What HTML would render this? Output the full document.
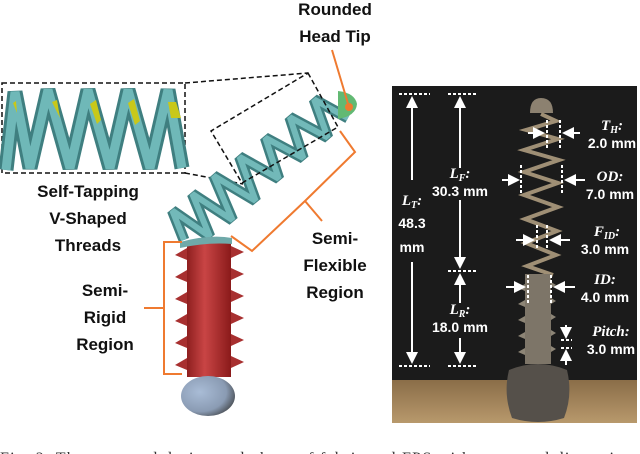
<!DOCTYPE html>
<html><head><meta charset="utf-8"><style>
html,body{margin:0;padding:0;background:#fff;width:640px;height:454px;overflow:hidden}
svg{display:block}
.b{font-family:"Liberation Sans",sans-serif;font-weight:bold;font-size:17px;fill:#111;text-anchor:middle}
.w{font-family:"Liberation Sans",sans-serif;font-weight:bold;font-size:14px;fill:#fff;text-anchor:middle}
.wi{font-family:"Liberation Serif",serif;font-style:italic;font-weight:bold;font-size:15px;fill:#fff;text-anchor:middle}
</style></head><body>
<svg width="640" height="454" viewBox="0 0 640 454" xmlns="http://www.w3.org/2000/svg">
<defs>
<linearGradient id="red" x1="0" x2="1"><stop offset="0" stop-color="#8e1f1f"/><stop offset="0.4" stop-color="#c94545"/><stop offset="1" stop-color="#8a1a1a"/></linearGradient>
<radialGradient id="ball" cx="0.35" cy="0.4" r="0.7"><stop offset="0" stop-color="#a9bcd6"/><stop offset="0.7" stop-color="#8a9bb3"/><stop offset="1" stop-color="#4a4f55"/></radialGradient>
<linearGradient id="wood" x1="0" y1="0" x2="0" y2="1"><stop offset="0" stop-color="#8a6d48"/><stop offset="1" stop-color="#b8996c"/></linearGradient>
<marker id="ah" markerWidth="6" markerHeight="6" refX="5" refY="3" orient="auto"><path d="M0,0 L6,3 L0,6 z" fill="#fff"/></marker>
</defs>

<!-- inset box -->
<rect x="2" y="83" width="183" height="90" fill="#fff" stroke="#111" stroke-width="1.5" stroke-dasharray="5,3"/>
<polyline points="6,170 15,92 30,168 48,90 70,168 88,90 110,168 128,90 150,168 168,90 182,168" fill="none" stroke="#3f7f80" stroke-width="15" stroke-linejoin="bevel"/>
<polyline points="6,170 15,92 30,168 48,90 70,168 88,90 110,168 128,90 150,168 168,90 182,168" fill="none" stroke="#6fb8b8" stroke-width="9" stroke-linejoin="bevel"/>
<path d="M13,103 l3,-2 l1,12 z M52,102 l5,-2 l3,18 z M90,104 l6,-4 l5,20 l-4,4 z M128,103 l6,-4 l6,22 l-5,4 z M168,102 l8,0 l5,16 l-10,0 z" fill="#c8c81a"/>
<line x1="185" y1="83" x2="308" y2="73" stroke="#111" stroke-width="1.5" stroke-dasharray="5,3"/>
<line x1="185" y1="173" x2="243" y2="184" stroke="#111" stroke-width="1.5" stroke-dasharray="5,3"/>

<!-- spring (rotated) -->
<g transform="translate(184,240) rotate(-40)">
<polyline points="0,0 10,-30 22,14 36,-30 50,16 64,-30 80,16 96,-28 112,14 128,-26 144,14 160,-26 176,14 190,-24 204,12" fill="none" stroke="#3f7f80" stroke-width="11" stroke-linejoin="bevel"/>
<polyline points="0,0 10,-30 22,14 36,-30 50,16 64,-30 80,16 96,-28 112,14 128,-26 144,14 160,-26 176,14 190,-24 204,12" fill="none" stroke="#72b9b9" stroke-width="6" stroke-linejoin="bevel"/>
</g>
<!-- rotated dashed box -->
<polygon points="308,73 338,127 242,183 211,131" fill="none" stroke="#111" stroke-width="1.5" stroke-dasharray="5,3"/>
<!-- head -->
<path d="M338,91 q17,2 19,13 q-1,12 -19,15 z" fill="#62b973"/>
<line x1="332" y1="50" x2="349" y2="107" stroke="#ef7a30" stroke-width="2"/>
<circle cx="349" cy="107" r="4" fill="#ef7a30"/>

<!-- red screw -->
<rect x="187" y="242" width="44" height="135" fill="url(#red)"/>
<path d="M187,248 l-12,7 l12,5 z M231,246 l13,6 l-13,6 z M187,270 l-12,7 l12,5 z M231,268 l13,6 l-13,6 z M187,292 l-12,7 l12,5 z M231,290 l13,6 l-13,6 z M187,314 l-12,7 l12,5 z M231,312 l13,6 l-13,6 z M187,336 l-12,7 l12,5 z M231,334 l13,6 l-13,6 z M187,358 l-12,7 l12,5 z M231,356 l13,6 l-13,6 z" fill="#a83030"/>
<path d="M180,242 q30,-8 52,-4 l0,6 q-25,-2 -52,4z" fill="#6fa9a9"/>
<ellipse cx="208" cy="396" rx="27" ry="20" fill="url(#ball)"/>

<!-- orange brackets -->
<polyline points="182,242 164,242 164,374 182,374" fill="none" stroke="#ef7a30" stroke-width="2"/>
<polyline points="164,308 144,308" fill="none" stroke="#ef7a30" stroke-width="2"/>
<polyline points="340,131 355,152 305,201 252,251 231,236" fill="none" stroke="#ef7a30" stroke-width="2"/>
<line x1="305" y1="201" x2="322" y2="221" stroke="#ef7a30" stroke-width="2"/>

<!-- labels -->
<text class="b" x="335" y="15">Rounded</text>
<text class="b" x="335" y="42">Head Tip</text>
<text class="b" x="88" y="197">Self-Tapping</text>
<text class="b" x="88" y="224">V-Shaped</text>
<text class="b" x="88" y="251">Threads</text>
<text class="b" x="335" y="244">Semi-</text>
<text class="b" x="335" y="271">Flexible</text>
<text class="b" x="335" y="298">Region</text>
<text class="b" x="105" y="296">Semi-</text>
<text class="b" x="105" y="323">Rigid</text>
<text class="b" x="105" y="350">Region</text>

<!-- photo -->
<rect x="392" y="86" width="245" height="337" fill="#1b1b1b"/>
<rect x="392" y="380" width="245" height="43" fill="url(#wood)"/>
<path d="M530,113 q0,-15 11,-15 q12,0 12,15 z" fill="#8c8170"/>
<polyline points="541,114 556,121 526,130 558,139 524,150 559,160 524,172 558,183 524,195 558,207 525,219 557,231 526,243 556,255 527,266 553,275" fill="none" stroke="#9f8f75" stroke-width="4"/>
<rect x="525" y="274" width="26" height="90" fill="#7d7568"/>
<path d="M525,284 l-7,4 l7,3z M551,282 l5,3 l-5,3z M525,300 l-7,4 l7,3z M551,298 l5,3 l-5,3z M525,316 l-7,4 l7,3z M551,314 l5,3 l-5,3z M525,332 l-7,4 l7,3z M551,330 l5,3 l-5,3z M525,348 l-7,4 l7,3z M551,346 l5,3 l-5,3z" fill="#8d8576"/>
<path d="M509,370 q29,-12 58,0 q6,25 -3,48 q-26,8 -52,0 q-9,-24 -3,-48z" fill="#55504a"/>

<g stroke="#fff" stroke-width="2" fill="none">
<g stroke-dasharray="3,2">
<line x1="399" y1="94" x2="430" y2="94"/><line x1="448" y1="94" x2="478" y2="94"/>
<line x1="399" y1="366" x2="430" y2="366"/><line x1="448" y1="366" x2="478" y2="366"/>
<line x1="448" y1="271" x2="478" y2="271"/>
<line x1="547" y1="120" x2="547" y2="148"/><line x1="560" y1="120" x2="560" y2="148"/>
<line x1="521" y1="165" x2="521" y2="195"/><line x1="562" y1="165" x2="562" y2="195"/>
<line x1="537" y1="225" x2="537" y2="250"/><line x1="547" y1="225" x2="547" y2="250"/>
<line x1="528" y1="275" x2="528" y2="305"/><line x1="551" y1="275" x2="551" y2="305"/>
<line x1="561" y1="340" x2="572" y2="340"/><line x1="561" y1="348" x2="572" y2="348"/>
</g>
<line x1="412" y1="180" x2="412" y2="98" marker-end="url(#ah)"/>
<line x1="412" y1="262" x2="412" y2="362" marker-end="url(#ah)"/>
<line x1="460" y1="168" x2="460" y2="98" marker-end="url(#ah)"/>
<line x1="460" y1="200" x2="460" y2="267" marker-end="url(#ah)"/>
<line x1="460" y1="303" x2="460" y2="275" marker-end="url(#ah)"/>
<line x1="460" y1="338" x2="460" y2="362" marker-end="url(#ah)"/>
<line x1="528" y1="133" x2="543" y2="133" marker-end="url(#ah)"/>
<line x1="580" y1="133" x2="564" y2="133" marker-end="url(#ah)"/>
<line x1="502" y1="180" x2="518" y2="180" marker-end="url(#ah)"/>
<line x1="585" y1="180" x2="566" y2="180" marker-end="url(#ah)"/>
<line x1="516" y1="240" x2="533" y2="240" marker-end="url(#ah)"/>
<line x1="570" y1="240" x2="551" y2="240" marker-end="url(#ah)"/>
<line x1="506" y1="287" x2="524" y2="287" marker-end="url(#ah)"/>
<line x1="575" y1="287" x2="555" y2="287" marker-end="url(#ah)"/>
<line x1="566" y1="325" x2="566" y2="337" marker-end="url(#ah)"/>
<line x1="566" y1="365" x2="566" y2="351" marker-end="url(#ah)"/>
</g>
<text class="wi" x="412" y="205">L<tspan font-size="10" dy="3">T</tspan><tspan dy="-3">:</tspan></text>
<text class="w" x="412" y="228">48.3</text>
<text class="w" x="412" y="252">mm</text>
<text class="wi" x="460" y="178">L<tspan font-size="10" dy="3">F</tspan><tspan dy="-3">:</tspan></text>
<text class="w" x="460" y="196">30.3 mm</text>
<text class="wi" x="460" y="314">L<tspan font-size="10" dy="3">R</tspan><tspan dy="-3">:</tspan></text>
<text class="w" x="460" y="332">18.0 mm</text>
<text class="wi" x="612" y="130">T<tspan font-size="10" dy="3">H</tspan><tspan dy="-3">:</tspan></text>
<text class="w" x="612" y="148">2.0 mm</text>
<text class="wi" x="610" y="181">OD:</text>
<text class="w" x="610" y="199">7.0 mm</text>
<text class="wi" x="607" y="236">F<tspan font-size="10" dy="3">ID</tspan><tspan dy="-3">:</tspan></text>
<text class="w" x="605" y="254">3.0 mm</text>
<text class="wi" x="605" y="284">ID:</text>
<text class="w" x="605" y="302">4.0 mm</text>
<text class="wi" x="611" y="336">Pitch:</text>
<text class="w" x="611" y="354">3.0 mm</text>

<!-- caption (cut off) -->
<text x="0" y="463" font-family="Liberation Serif, serif" font-size="16" fill="#333" textLength="640">Fig. 2:   The proposed design and photo of fabricated FPS with annotated dimensions</text>
</svg>
</body></html>
